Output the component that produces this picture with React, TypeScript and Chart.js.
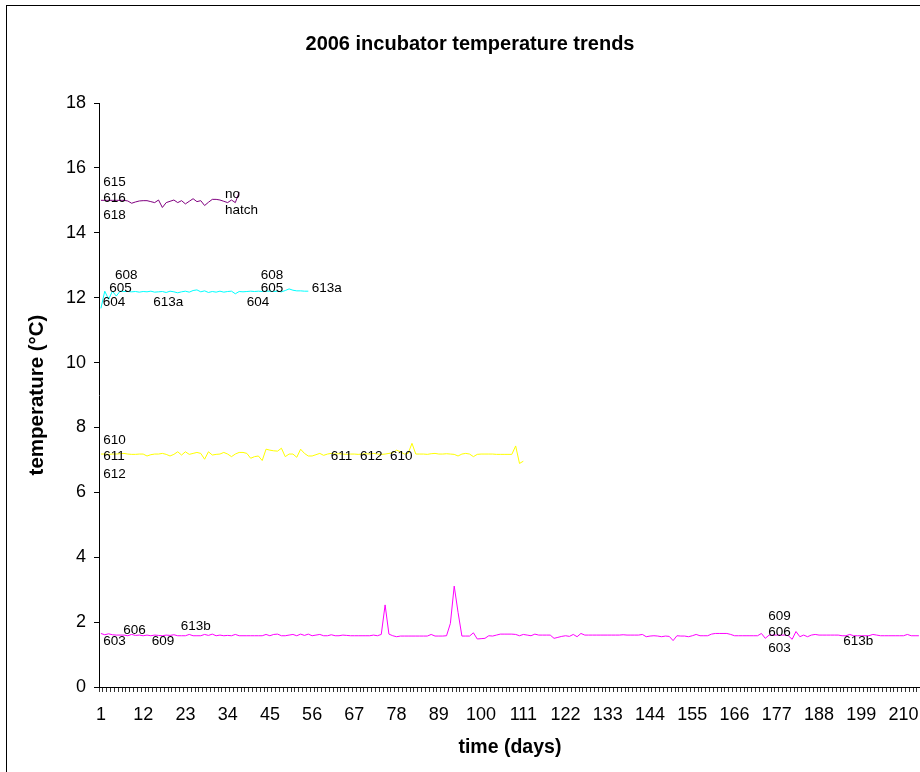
import React, { useEffect, useRef } from 'react';
import { Chart, registerables } from 'chart.js';

Chart.register(...registerables);

const FONT = '"Liberation Sans", Arial, sans-serif';

// category axis: days 1..214
const DAY_COUNT = 214;
const days: string[] = Array.from({ length: DAY_COUNT }, (_, i) => String(i + 1));
const tickLabels = ['1', '12', '23', '34', '45', '56', '67', '78', '89', '100', '111', '122', '133', '144', '155', '166', '177', '188', '199', '210'];

// incubator 615 / 616 / 618 (purple)
const purpleSeries = [
  15.0, 15.0, 15.0, 15.0, 15.0, 15.0, 15.0, 14.98, 14.91, 14.95,
  14.98, 14.99, 14.99, 14.96, 14.93, 15.01, 14.78, 14.93, 14.97, 15.01,
  14.93, 14.99, 14.89, 14.97, 15.05, 14.96, 14.99, 14.84, 14.94, 15.03,
  15.03, 15.01, 14.97, 14.93, 15.01, 14.93, 15.25,
];

// incubator 604 / 605 / 608 / 613a (cyan)
const cyanSeries = [
  11.67, 12.2, 11.95, 12.2, 12.05, 12.2, 12.19, 12.19, 12.18, 12.19,
  12.17, 12.19, 12.18, 12.2, 12.17, 12.18, 12.19, 12.16, 12.2, 12.18,
  12.15, 12.18, 12.2, 12.17, 12.22, 12.24, 12.18, 12.21, 12.16, 12.19,
  12.17, 12.2, 12.17, 12.19, 12.2, 12.12, 12.19, 12.18, 12.19, 12.2,
  12.19, 12.2, 12.19, 12.2, 12.2, 12.19, 12.2, 12.18, 12.22, 12.27,
  12.23, 12.21, 12.21, 12.2, 12.2,
];

// incubator 610 / 611 / 612 (yellow)
const yellowSeries = [
  7.18, 7.18, 7.17, 7.18, 7.18, 7.19, 7.2, 7.18, 7.17, 7.17,
  7.18, 7.18, 7.12, 7.16, 7.18, 7.18, 7.2, 7.17, 7.12, 7.17,
  7.25, 7.15, 7.25, 7.17, 7.2, 7.23, 7.2, 7.02, 7.25, 7.15,
  7.17, 7.18, 7.23, 7.18, 7.1, 7.18, 7.23, 7.23, 7.2, 7.05,
  7.1, 7.12, 6.98, 7.33, 7.3, 7.28, 7.27, 7.36, 7.1, 7.18,
  7.18, 7.08, 7.33, 7.2, 7.12, 7.12, 7.16, 7.2, 7.14, 7.18,
  7.2, 7.18, 7.19, 7.18, 7.17, 7.18, 7.18, 7.17, 7.18, 7.19,
  7.18, 7.2, 7.18, 7.17, 7.18, 7.2, 7.22, 7.3, 7.25, 7.18,
  7.2, 7.51, 7.18, 7.18, 7.18, 7.17, 7.19, 7.2, 7.18, 7.18,
  7.19, 7.18, 7.17, 7.12, 7.18, 7.2, 7.18, 7.1, 7.17, 7.18,
  7.18, 7.18, 7.18, 7.17, 7.17, 7.17, 7.17, 7.17, 7.43, 6.89,
  6.96,
];

// incubator 603 / 606 / 609 / 613b (magenta)
const magentaSeries = [
  1.65, 1.61, 1.64, 1.61, 1.6, 1.6, 1.6, 1.58, 1.62, 1.59,
  1.6, 1.58, 1.6, 1.58, 1.6, 1.59, 1.58, 1.6, 1.59, 1.61,
  1.58, 1.58, 1.58, 1.62, 1.58, 1.58, 1.58, 1.62, 1.59, 1.63,
  1.58, 1.6, 1.58, 1.59, 1.58, 1.62, 1.58, 1.58, 1.58, 1.58,
  1.58, 1.58, 1.58, 1.62, 1.58, 1.62, 1.63, 1.58, 1.58, 1.6,
  1.62, 1.58, 1.63, 1.59, 1.63, 1.58, 1.6, 1.62, 1.58, 1.58,
  1.61, 1.58, 1.58, 1.6, 1.59, 1.58, 1.58, 1.58, 1.58, 1.58,
  1.58, 1.6, 1.58, 1.62, 2.53, 1.63, 1.58, 1.55, 1.57, 1.57,
  1.57, 1.57, 1.57, 1.57, 1.57, 1.57, 1.62, 1.57, 1.57, 1.57,
  1.58, 1.96, 3.11, 2.3, 1.57, 1.57, 1.57, 1.67, 1.48, 1.49,
  1.5, 1.58, 1.57, 1.6, 1.63, 1.63, 1.63, 1.63, 1.62, 1.58,
  1.62, 1.6, 1.58, 1.63, 1.6, 1.6, 1.6, 1.6, 1.5, 1.53,
  1.56, 1.58, 1.56, 1.62, 1.55, 1.65, 1.6, 1.6, 1.6, 1.6,
  1.6, 1.6, 1.6, 1.6, 1.6, 1.6, 1.61, 1.6, 1.6, 1.6,
  1.6, 1.62, 1.55, 1.57, 1.58, 1.57, 1.55, 1.57, 1.56, 1.43,
  1.58, 1.57, 1.57, 1.55, 1.58, 1.62, 1.58, 1.58, 1.58, 1.63,
  1.65, 1.65, 1.65, 1.65, 1.62, 1.58, 1.58, 1.58, 1.58, 1.58,
  1.58, 1.58, 1.65, 1.5, 1.6, 1.6, 1.6, 1.6, 1.6, 1.58,
  1.47, 1.71, 1.55, 1.6, 1.55, 1.6, 1.62, 1.6, 1.6, 1.6,
  1.6, 1.6, 1.6, 1.58, 1.58, 1.62, 1.58, 1.58, 1.58, 1.58,
  1.58, 1.62, 1.6, 1.58, 1.58, 1.58, 1.58, 1.58, 1.58, 1.58,
  1.62, 1.58, 1.58, 1.58,
];

// text labels: text, day (left edge, in category units), value (vertical centre)
const labelTexts = [
  '615', '616', '618', 'no', 'hatch',
  '608', '605', '604', '613a', '608', '605', '604', '613a',
  '610', '611', '612', '611', '612', '610',
  '603', '606', '609', '613b', '609', '606', '603', '613b',
];
const labelDays = [
  1.62, 1.62, 1.62, 33.3, 33.3,
  4.67, 3.18, 1.46, 14.64, 42.6, 42.6, 38.96, 55.9,
  1.62, 1.62, 1.62, 60.84, 68.47, 76.3,
  1.62, 6.83, 14.22, 21.78, 174.8, 174.8, 174.8, 194.3,
];
const labelValues = [
  15.57, 15.07, 14.55, 15.2, 14.7,
  12.7, 12.28, 11.87, 11.87, 12.7, 12.28, 11.87, 12.28,
  7.6, 7.1, 6.57, 7.1, 7.1, 7.1,
  1.41, 1.74, 1.41, 1.86, 2.17, 1.7, 1.2, 1.4,
];

const frameBorder = {
  id: 'frameBorder',
  beforeDraw(chart: any) {
    const { ctx, width, height } = chart;
    ctx.save();
    ctx.fillStyle = '#ffffff';
    ctx.fillRect(0, 0, width, height);
    ctx.strokeStyle = '#000000';
    ctx.lineWidth = 1;
    ctx.strokeRect(6.5, 5.5, width + 50, height + 50);
    ctx.restore();
  },
};

const textLabels = {
  id: 'textLabels',
  afterDatasetsDraw(chart: any) {
    const { ctx } = chart;
    const xs = chart.scales.x;
    const ys = chart.scales.y;
    ctx.save();
    ctx.fillStyle = '#000000';
    ctx.font = '13.5px ' + FONT;
    ctx.textAlign = 'left';
    ctx.textBaseline = 'middle';
    for (let i = 0; i < labelTexts.length; i++) {
      const x = xs.getPixelForValue(labelDays[i] - 1);
      const y = ys.getPixelForValue(labelValues[i]);
      ctx.fillText(labelTexts[i], x, y);
    }
    ctx.restore();
  },
};

export default function App() {
  const ref = useRef<HTMLCanvasElement | null>(null);

  useEffect(() => {
    if (!ref.current) return;
    const tickSet = new Set(tickLabels);
    const line = (data: number[], color: string) => ({
      data,
      borderColor: color,
      backgroundColor: color,
      borderWidth: 1,
      pointRadius: 0,
      tension: 0,
      fill: false,
    });
    const chart = new Chart(ref.current, {
      type: 'line',
      data: {
        labels: days,
        datasets: [
          { label: '615 616 618', ...line(purpleSeries, '#800080') },
          { label: '604 605 608 613a', ...line(cyanSeries, '#00ffff') },
          { label: '610 611 612', ...line(yellowSeries, '#ffff00') },
          { label: '603 606 609 613b', ...line(magentaSeries, '#ff00ff') },
        ],
      },
      options: {
        animation: false,
        responsive: false,
        devicePixelRatio: 1,
        layout: { padding: { left: 19.2, right: 19.2, top: 0, bottom: 0 } },
        plugins: {
          legend: { display: false },
          tooltip: { enabled: false },
          title: {
            display: true,
            text: '2006 incubator temperature trends',
            color: '#000',
            font: { family: FONT, size: 20, weight: 'bold' },
            padding: { top: 32, bottom: 47 },
          },
        },
        scales: {
          x: {
            type: 'category',
            offset: true,
            grid: {
              display: true,
              drawOnChartArea: false,
              drawTicks: true,
              tickLength: 5,
              offset: true,
              color: '#333',
              lineWidth: 1,
            },
            border: { display: true, color: '#000', width: 1 },
            ticks: {
              autoSkip: false,
              maxRotation: 0,
              minRotation: 0,
              padding: 12,
              color: '#000',
              font: { family: FONT, size: 18 },
              callback: (_v: any, i: number) => (tickSet.has(days[i]) ? days[i] : ''),
            },
            title: {
              display: true,
              text: 'time (days)',
              color: '#000',
              font: { family: FONT, size: 19.5, weight: 'bold' },
              padding: { top: 0, bottom: 12.3 },
            },
            afterFit: (s: any) => {
              s.height = 85;
            },
          },
          y: {
            min: 0,
            max: 18,
            ticks: {
              stepSize: 2,
              padding: 8,
              color: '#000',
              font: { family: FONT, size: 18 },
            },
            grid: {
              drawOnChartArea: false,
              drawTicks: true,
              tickLength: 5,
              color: '#000',
            },
            border: { display: true, color: '#000', width: 1 },
            title: {
              display: true,
              text: 'temperature (°C)',
              color: '#000',
              font: { family: FONT, size: 20.5, weight: 'bold' },
              padding: { top: 5.5, bottom: 0 },
            },
            afterFit: (s: any) => {
              s.width = 79.8;
            },
          },
        },
      } as any,
      plugins: [frameBorder, textLabels],
    });
    return () => chart.destroy();
  }, []);

  return (
    <div
      style={{
        position: 'absolute',
        left: 0,
        top: 0,
        width: 920,
        height: 772,
        overflow: 'hidden',
        background: '#fff',
      }}
    >
      <canvas
        ref={ref}
        width={940}
        height={772}
        style={{ display: 'block', width: 940, height: 772 }}
      />
    </div>
  );
}
